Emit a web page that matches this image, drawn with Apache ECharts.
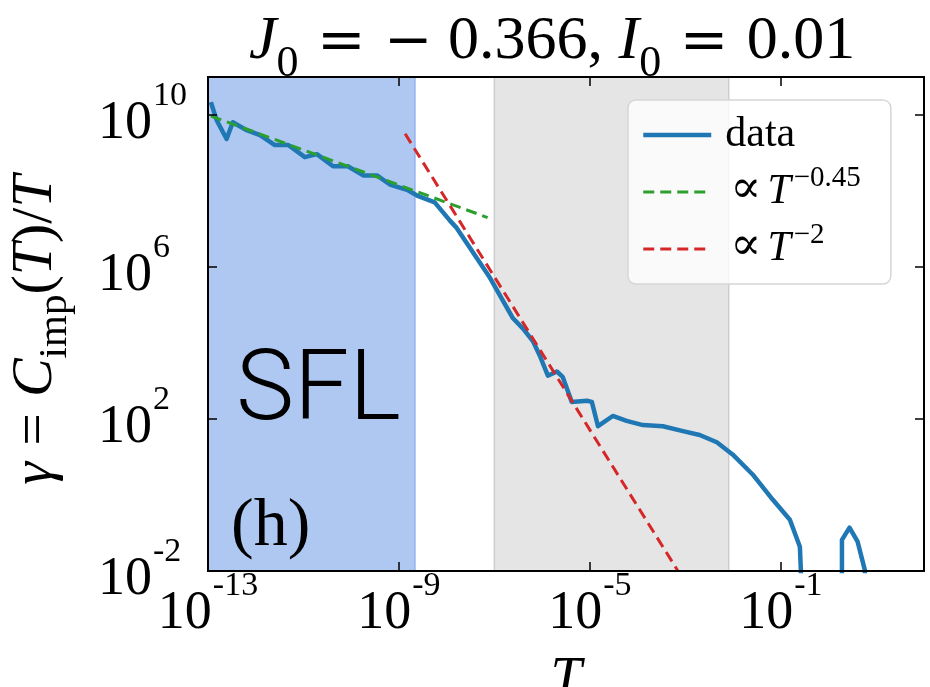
<!DOCTYPE html>
<html><head><meta charset="utf-8">
<script src="https://cdn.jsdelivr.net/npm/echarts@6/dist/echarts.min.js"></script>
<style>html,body{margin:0;padding:0;background:#fff}#c{width:930px;height:687px}</style>
</head><body><div id="c"></div>
<script>
// ---- data ----
const xTickValues = [1e-13, 1e-9, 1e-5, 1e-1];
const yTickValues = [1e-2, 1e2, 1e6, 1e10];

const dataT = [1.15e-13, 1.51e-13, 2.45e-13, 3.31e-13, 6.46e-13, 1.23e-12, 2.51e-12, 4.79e-12,
  1.07e-11, 1.91e-11, 4.17e-11, 8.51e-11, 1.78e-10, 3.47e-10, 6.46e-10, 1.48e-9, 2.40e-9,
  5.62e-9, 1.17e-8, 1.62e-8, 8.13e-8, 2.45e-7, 3.98e-7, 6.46e-7, 8.91e-7, 1.32e-6, 2.04e-6,
  2.69e-6, 4.17e-6, 8.71e-6, 1.10e-5, 1.48e-5, 3.02e-5, 5.89e-5, 1.29e-4, 3.39e-4, 8.91e-4,
  2.00e-3, 4.57e-3, 9.77e-3, 2.57e-2, 6.76e-2, 0.155, 0.251, 0.263, 0.27, 1.0,
  1.91, 1.91, 2.75, 4.07, 5.75, 6.2];
const dataGamma = [2.19e10, 7.41e9, 2.34e9, 6.46e9, 3.98e9, 2.95e9, 1.62e9, 1.62e9,
  7.76e8, 9.33e8, 4.47e8, 4.47e8, 2.57e8, 2.57e8, 1.48e8, 1.07e8, 7.59e7,
  5.01e7, 1.66e7, 1.07e7, 5.13e5, 4.47e4, 2.40e4, 1.10e4, 4.68e3, 1.38e3, 1.78e3,
  1.29e3, 282, 302, 282, 64.6, 120, 89.1, 69.2, 64.6, 47.9,
  38.0, 24.5, 11.7, 3.47, 0.759, 0.224, 0.0437, 0.0107, 1e-6, null,
  1e-6, 0.066, 0.138, 0.0589, 0.0107, 1e-6];

const fit045T = [1.15e-13, 7.2e-8];
const fit045G = [9.4e9, 2.0e7];
const fit2T = [1.35e-9, 7.0e-4];
const fit2G = [3.2e9, 0.01];

const sflBand = [1e-13, 2.16e-9];
const crossBand = [1e-7, 8.1e-3];

const seriesNames = ['data', 'p045', 'p2'];
const legendTexts = {
  data: '{d|data}',
  p045: '{p|\u221D}{it|T}{sup|\u22120.45}',
  p2: '{p|\u221D}{it|T}{sup|\u22122}'
};

// ---- chart ----
const serif = "'Liberation Serif', 'Times New Roman', 'DejaVu Serif', serif";
const wideSerif = "'DejaVu Serif', serif";
const pair = (xs, ys) => xs.map((x, i) => [x, ys[i]]);
function sci(v) {
  const e = Math.round(Math.log10(v));
  return '{b|10}{s|' + e + '}';
}
const labelRich = {
  b: {fontFamily: serif, fontSize: 54, lineHeight: 54, color: '#000', verticalAlign: 'bottom'},
  s: {fontFamily: serif, fontSize: 34, lineHeight: 34, color: '#000', verticalAlign: 'bottom', padding: [0, 0, 38, 1]}
};
const axisCommon = {
  axisLine: {show: true, onZero: false, lineStyle: {color: '#000', width: 2}},
  splitLine: {show: false},
  minorTick: {show: false},
  z: 10
};
const tx = (o) => Object.assign({fontFamily: serif, color: '#000', fontWeight: 'normal', verticalAlign: 'bottom'}, o);

const chart = echarts.init(document.getElementById('c'), null, {renderer: 'canvas'});
chart.setOption({
  animation: false,
  backgroundColor: '#fff',
  title: {
    text: '{it|J}{sub|0}{op| = \u2212}{t| 0.366, }{it|I}{sub|0}{op| = }{t|0.01}',
    left: 249, top: 24, padding: 0,
    textStyle: {
      fontWeight: 'normal',
      rich: {
        it: tx({fontStyle: 'italic', fontSize: 62, lineHeight: 62, padding: [0, 0, 13, 0]}),
        t: tx({fontSize: 62, lineHeight: 62, padding: [0, 0, 13, 0]}),
        op: tx({fontFamily: wideSerif, fontSize: 58, lineHeight: 62, padding: [0, 0, 13, 0]}),
        sub: tx({fontSize: 44, lineHeight: 44})
      }
    }
  },
  grid: {left: 208, right: 6, top: 77, bottom: 116, outerBoundsMode: 'none', containLabel: false},
  xAxis: [
    Object.assign({}, axisCommon, {
      type: 'log', logBase: 10, min: 1e-13, max: 100, position: 'bottom',
      axisTick: {show: true, inside: true, length: 9, lineStyle: {color: '#000', width: 1.5}, customValues: xTickValues},
      axisLabel: {customValues: xTickValues, formatter: sci, rich: labelRich, margin: 16},
      name: 'T', nameLocation: 'middle', nameGap: 82,
      nameTextStyle: {fontFamily: serif, fontStyle: 'italic', fontSize: 56, lineHeight: 56, color: '#000'}
    }),
    Object.assign({}, axisCommon, {
      type: 'log', logBase: 10, min: 1e-13, max: 100, position: 'top',
      axisTick: {show: true, inside: true, length: 9, lineStyle: {color: '#000', width: 1.5}, customValues: xTickValues},
      axisLabel: {show: false}
    })
  ],
  yAxis: [
    Object.assign({}, axisCommon, {
      type: 'log', logBase: 10, min: 1e-2, max: 1e11, position: 'left',
      axisTick: {show: true, inside: true, length: 9, lineStyle: {color: '#000', width: 1.5}, customValues: yTickValues},
      axisLabel: {customValues: yTickValues, formatter: sci, rich: labelRich, margin: 110, align: 'left', padding: [18, 0, 0, 0]},
      name: '{g|\u03B3}{t|=}{cc|C}{sub|imp}{t|(}{c|T}{t|)/}{c|T}',
      nameLocation: 'middle', nameRotate: 90, nameGap: 132,
      nameTextStyle: {
        padding: [0, 12, 0, 0],
        rich: {
          g: tx({fontStyle: 'italic', fontSize: 58, lineHeight: 58, padding: [0, 16, 11, 0]}),
          cc: tx({fontStyle: 'italic', fontSize: 58, lineHeight: 58, padding: [0, 0, 11, 16]}),
          c: tx({fontStyle: 'italic', fontSize: 58, lineHeight: 58, padding: [0, 0, 11, 0]}),
          t: tx({fontSize: 58, lineHeight: 58, padding: [0, 0, 11, 0]}),
          sub: tx({fontSize: 41, lineHeight: 41})
        }
      }
    }),
    Object.assign({}, axisCommon, {
      type: 'log', logBase: 10, min: 1e-2, max: 1e11, position: 'right',
      axisTick: {show: true, inside: true, length: 9, lineStyle: {color: '#000', width: 1.5}, customValues: yTickValues},
      axisLabel: {show: false}
    })
  ],
  legend: {
    orient: 'vertical', left: 628, top: 100,
    padding: [7, 30, 14, 13],
    itemWidth: 68, itemHeight: 14, itemGap: 8,
    backgroundColor: 'rgba(255,255,255,0.8)',
    borderColor: '#d6d6d6', borderWidth: 1.5, borderRadius: 8,
    selectedMode: false,
    itemStyle: {color: 'transparent', borderWidth: 0, opacity: 0},
    data: [
      {name: seriesNames[0], lineStyle: {width: 4.5}},
      {name: seriesNames[1], lineStyle: {width: 3}},
      {name: seriesNames[2], lineStyle: {width: 3}}
    ],
    formatter: n => legendTexts[n],
    textStyle: {
      rich: {
        d: tx({fontSize: 42, lineHeight: 42, padding: [7, 0, 0, 9]}),
        p: tx({fontFamily: wideSerif, fontSize: 46, lineHeight: 42, padding: [0, 6, 0, 14]}),
        it: tx({fontStyle: 'italic', fontSize: 42, lineHeight: 42}),
        sup: tx({fontSize: 29, lineHeight: 29, padding: [0, 0, 20, 3]})
      }
    }
  },
  graphic: [
    {type: 'text', x: 236, y: 394, z: 20, style: {text: 'SFL', font: '300 98px Roboto', fill: '#000', verticalAlign: 'middle', align: 'left'}},
    {type: 'text', x: 231, y: 527, z: 20, style: {text: '(h)', font: '68px ' + serif, fill: '#000', verticalAlign: 'middle', align: 'left'}}
  ],
  series: [
    {
      type: 'line', data: [], z: 1, silent: true,
      markArea: {
        silent: true,
        data: [
          [{xAxis: sflBand[0], itemStyle: {color: '#aec8f2', borderColor: '#8fb1ee', borderWidth: 1.5}}, {xAxis: sflBand[1]}],
          [{xAxis: crossBand[0], itemStyle: {color: '#e5e5e5', borderColor: '#cdcdcd', borderWidth: 1.5}}, {xAxis: crossBand[1]}]
        ]
      }
    },
    {
      name: seriesNames[0], type: 'line', data: pair(dataT, dataGamma), z: 3,
      symbol: 'none', showSymbol: false, clip: true, connectNulls: false,
      lineStyle: {color: '#1f77b4', width: 4.5, join: 'round'}, itemStyle: {color: '#1f77b4'}
    },
    {
      name: seriesNames[1], type: 'line', data: pair(fit045T, fit045G), z: 4,
      symbol: 'none', showSymbol: false, clip: true,
      lineStyle: {color: '#2ca02c', width: 3, type: [11, 6]}, itemStyle: {color: '#2ca02c'}
    },
    {
      name: seriesNames[2], type: 'line', data: pair(fit2T, fit2G), z: 5,
      symbol: 'none', showSymbol: false, clip: true,
      lineStyle: {color: '#d62728', width: 3, type: [11, 6]}, itemStyle: {color: '#d62728'}
    }
  ]
});
</script></body></html>
